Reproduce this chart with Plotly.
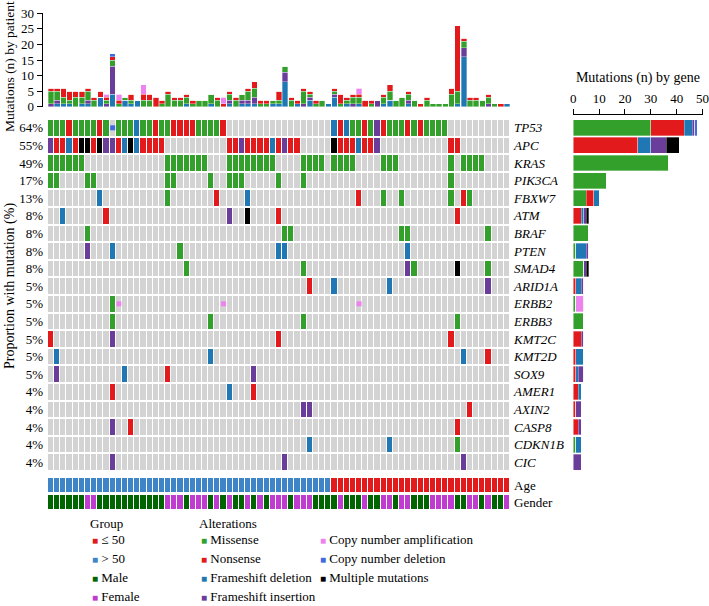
import plotly.graph_objects as go

W, H = 709, 606
FONT = "Liberation Serif"

# ---------------- data ----------------
genes = ["TP53", "APC", "KRAS", "PIK3CA", "FBXW7", "ATM", "BRAF", "PTEN", "SMAD4", "ARID1A",
         "ERBB2", "ERBB3", "KMT2C", "KMT2D", "SOX9", "AMER1", "AXIN2", "CASP8", "CDKN1B", "CIC"]
pct_labels = ["64%", "55%", "49%", "17%", "13%", "8%", "8%", "8%", "8%", "5%",
              "5%", "5%", "5%", "5%", "5%", "4%", "4%", "4%", "4%", "4%"]
N_PAT = 75

# alteration per patient column: M missense, N nonsense, D frameshift deletion,
# I frameshift insertion, K multiple, A copy-number amplification, L copy-number deletion
dense_alts = {
    "TP53": "MMMNMMMMNMLMMMDMMNMMNNNNMMMMN" + "." * 17 + "DNDMMNMINMMMNMNMMMM" + "." * 10,
    "APC": "INNDNKKNKIINDKDNNNN" + "." * 10 + "NNINNNNDNINN" + "." * 5 + "KNNNDNNI" + "." * 11 + "NN" + "." * 8,
    "KRAS": "MMMMMM" + "." * 13 + "MMMMMMM" + "..." + "MMMMMMMM" + "...." + "MMMM" + "." + "MMMM"
            + "...." + "MMM" + "." * 8 + "M" + "." + "MMMM" + "....",
}
sparse_alts = {
    "PIK3CA": {0: "M", 1: "M", 6: "M", 7: "M", 19: "M", 20: "M", 26: "M", 29: "M", 30: "M", 31: "M", 37: "M", 41: "M", 65: "M"},
    "FBXW7": {8: "D", 19: "M", 27: "N", 32: "D", 50: "N", 54: "M", 57: "M", 65: "M", 67: "N", 68: "M"},
    "ATM": {2: "D", 9: "N", 29: "I", 32: "K", 37: "N", 66: "N"},
    "BRAF": {6: "M", 38: "M", 39: "M", 57: "M", 58: "M", 71: "M"},
    "PTEN": {6: "I", 10: "D", 21: "M", 37: "D", 38: "D", 58: "D"},
    "SMAD4": {22: "M", 41: "M", 58: "I", 59: "M", 66: "K", 71: "M"},
    "ARID1A": {42: "N", 46: "D", 55: "D", 71: "I"},
    "ERBB2": {10: "M", 11: "A", 28: "A", 50: "A"},
    "ERBB3": {10: "M", 26: "M", 41: "M", 66: "M"},
    "KMT2C": {0: "N", 10: "I", 37: "N", 65: "N"},
    "KMT2D": {1: "D", 26: "D", 67: "D", 71: "N"},
    "SOX9": {1: "I", 12: "D", 19: "N", 33: "I"},
    "AMER1": {10: "N", 29: "D", 33: "N"},
    "AXIN2": {41: "I", 42: "I", 68: "N"},
    "CASP8": {10: "I", 13: "N", 66: "N"},
    "CDKN1B": {42: "D", 55: "D", 66: "M"},
    "CIC": {10: "I", 38: "I", 67: "I"},
}

# mutations per patient (top bar chart), by type
pp_fsdel = [0,1,1,1,0,1,1,0,3,0,4,0,2,1,2,0,0,0,0,0,0,0,1,0,0,0,1,0,0,1,0,1,1,1,0,0,1,1,8,0,
            1,0,2,0,0,1,3,0,1,0,1,0,0,0,1,2,0,0,1,0,0,0,0,0,0,0,1,16,0,0,0,0,0,0,1]
pp_fsins = [1,1,0,0,0,0,1,0,0,1,9,0,0,0,0,0,0,0,0,0,0,0,0,0,0,0,0,0,0,1,0,1,1,2,0,0,0,0,3,0,
            0,1,1,0,0,0,1,0,0,1,0,0,0,2,0,0,0,0,1,0,0,0,0,0,0,0,0,3,0,0,0,1,0,0,0]
pp_missense = [4,3,2,1,3,2,3,2,0,1,2,1,1,1,0,2,2,0,1,4,2,2,2,1,2,2,3,2,0,2,2,2,3,3,1,1,1,1,2,2,
               0,4,1,1,2,0,1,1,1,2,2,0,1,0,2,3,2,3,2,2,0,2,1,1,1,4,4,2,2,2,2,2,1,0,0]
pp_nonsense = [1,1,3,3,2,2,1,1,2,1,1,1,0,2,0,2,2,3,1,1,1,1,1,1,0,0,0,1,1,1,1,0,1,2,1,1,0,3,0,1,
               1,1,1,1,0,0,1,3,1,1,1,2,1,0,1,2,0,0,1,0,1,1,0,0,0,2,21,1,1,1,0,1,0,1,0]
pp_cnamp = [0]*9 + [1, 0, 2, 0, 0, 0, 3] + [0]*12 + [2] + [0]*21 + [2] + [0]*24
pp_cndel = [0]*10 + [1] + [0]*64

# mutations per gene (right bar chart), by type
g_missense = [30, 0, 37, 13, 5, 0, 6, 1, 4, 0, 1, 4, 0, 0, 0, 0, 0, 0, 1, 0]
g_nonsense = [13, 25, 0, 0, 3, 3, 0, 0, 0, 1, 0, 0, 3, 1, 1, 2, 1, 2, 0, 0]
g_fsdel = [3, 5, 0, 0, 2, 1, 0, 4, 0, 2, 0, 0, 0, 3, 1, 1, 0, 0, 2, 0]
g_fsins = [1, 6, 0, 0, 0, 1, 0, 1, 1, 1, 0, 0, 1, 0, 2, 0, 2, 1, 0, 3]
g_cnamp = [0, 0, 0, 0, 0, 0, 0, 0, 0, 0, 3, 0, 0, 0, 0, 0, 0, 0, 0, 0]
g_cndel = [1, 0, 0, 0, 0, 0, 0, 0, 0, 0, 0, 0, 0, 0, 0, 0, 0, 0, 0, 0]
g_multiple = [0, 5, 0, 0, 0, 1, 0, 0, 1, 0, 0, 0, 0, 0, 0, 0, 0, 0, 0, 0]

age_group = [">50"] * 46 + ["<=50"] * 29
gender = list("MMMMMMFFMMMMMMMMMMMFFFMFFFMFMFMMFMFMFFFMFFFMMMMFMMMFMMFFMFFMMMFFFFMMFFMFMM")
gender += ["F"] * (N_PAT - len(gender))

# legend content
group_legend = [("\u2264 50", "#e31a1c"), ("> 50", "#3d85c6"), ("Male", "#006400"), ("Female", "#c03cd0")]
alt_legend_a = [("Missense", "#33a02c"), ("Nonsense", "#e31a1c"),
                ("Frameshift deletion", "#1f78b4"), ("Frameshift insertion", "#6a3d9a")]
alt_legend_b = [("Copy number amplification", "#ee82ee"), ("Copy number deletion", "#4169e1"),
                ("Multiple mutations", "#000000")]

# ---------------- styles ----------------
C_MIS, C_NON, C_DEL, C_INS = "#33a02c", "#e31a1c", "#1f78b4", "#6a3d9a"
C_AMP, C_CND, C_MUL, C_GRAY = "#ee82ee", "#4169e1", "#000000", "#d3d3d3"
C_OLD, C_YOUNG, C_MALE, C_FEM = "#3d85c6", "#e31a1c", "#006400", "#c03cd0"

def px_x(p):
    return p / W

def px_y(p):
    return 1 - p / H

# build grid matrix
rows = []
for g in genes:
    if g in dense_alts:
        rows.append(dense_alts[g])
    else:
        r = ["."] * N_PAT
        for c, code in sparse_alts[g].items():
            r[c] = code
        rows.append("".join(r))

code_val = {".": 0, "A": 0, "L": 0, "M": 1, "N": 2, "D": 3, "I": 4, "K": 5}
z = [[code_val[ch] for ch in r] for r in rows]
cols = list(range(N_PAT))

def disc_scale(colors):
    n = len(colors)
    cs = []
    for i, c in enumerate(colors):
        cs.append([i / n, c])
        cs.append([(i + 1) / n, c])
    return cs

fig = go.Figure()
bar_line = dict(color="rgba(255,255,255,0.55)", width=0.6)

# top stacked bars (mutations by patient)
for vals, col, name in [(pp_fsdel, C_DEL, "Frameshift deletion"), (pp_fsins, C_INS, "Frameshift insertion"),
                        (pp_missense, C_MIS, "Missense"), (pp_nonsense, C_NON, "Nonsense"),
                        (pp_cnamp, C_AMP, "Copy number amplification"), (pp_cndel, C_CND, "Copy number deletion")]:
    fig.add_trace(go.Bar(x=cols, y=vals, marker=dict(color=col, line=bar_line),
                         xaxis="x", yaxis="y", showlegend=False, hoverinfo="skip", name=name))

# oncoprint grid
fig.add_trace(go.Heatmap(z=z, x=cols, y=list(range(len(genes))), xaxis="x2", yaxis="y2",
                         zmin=-0.5, zmax=5.5,
                         colorscale=disc_scale([C_GRAY, C_MIS, C_NON, C_DEL, C_INS, C_MUL]),
                         showscale=False, xgap=1, ygap=2, hoverinfo="skip"))
# copy number small squares
for code, col in [("A", C_AMP), ("L", C_CND)]:
    xs, ys = [], []
    for gi, r in enumerate(rows):
        for c, ch in enumerate(r):
            if ch == code:
                xs.append(c)
                ys.append(gi)
    fig.add_trace(go.Scatter(x=xs, y=ys, mode="markers", xaxis="x2", yaxis="y2",
                             marker=dict(symbol="square", size=5, color=col), showlegend=False, hoverinfo="skip"))
# invisible trace to activate right label axis
fig.add_trace(go.Scatter(x=[None], y=[None], xaxis="x2", yaxis="y3", showlegend=False, hoverinfo="skip"))

# annotation rows: age & gender
age_val = [0 if a == "<=50" else 1 for a in age_group]
gen_val = [2 if g == "M" else 3 for g in gender]
fig.add_trace(go.Heatmap(z=[age_val, gen_val], x=cols, y=[0, 1], xaxis="x4", yaxis="y4",
                         zmin=-0.5, zmax=3.5, colorscale=disc_scale([C_YOUNG, C_OLD, C_MALE, C_FEM]),
                         showscale=False, xgap=1, ygap=3, hoverinfo="skip"))

# right stacked bars (mutations by gene)
gidx = list(range(len(genes)))
for vals, col in [(g_missense, C_MIS), (g_nonsense, C_NON), (g_fsdel, C_DEL), (g_fsins, C_INS),
                  (g_cnamp, C_AMP), (g_cndel, C_CND), (g_multiple, C_MUL)]:
    fig.add_trace(go.Bar(x=vals, y=gidx, orientation="h", xaxis="x5", yaxis="y5",
                         marker=dict(color=col, line=bar_line), showlegend=False, hoverinfo="skip"))

GX0, GX1 = 48, 510
grid_top, grid_bot = 119, 471
tickfont = dict(family=FONT, size=13, color="black")
LF = dict(family=FONT, size=13, color="black")

annotations = [
    dict(text="Mutations (n) by patient", x=px_x(10), y=px_y(67), xref="paper", yref="paper",
         showarrow=False, textangle=-90, font=dict(family=FONT, size=13.5), xanchor="center", yanchor="middle"),
    dict(text="Proportion with mutation (%)", x=px_x(10), y=px_y(286), xref="paper", yref="paper",
         showarrow=False, textangle=-90, font=dict(family=FONT, size=14), xanchor="center", yanchor="middle"),
    dict(text="Group", x=px_x(88), y=px_y(523), xref="paper", yref="paper", showarrow=False,
         xanchor="left", yanchor="middle", font=LF),
    dict(text="Alterations", x=px_x(197), y=px_y(523), xref="paper", yref="paper", showarrow=False,
         xanchor="left", yanchor="middle", font=LF),
]

def legend_items(items, x_left, y_first):
    out = []
    for i, (label, col) in enumerate(items):
        out.append(dict(text='<span style="color:%s;font-size:10px">\u25a0</span> %s' % (col, label),
                        x=px_x(x_left), y=px_y(y_first + 19 * i), xref="paper", yref="paper",
                        showarrow=False, xanchor="left", yanchor="middle", font=LF))
    return out

annotations += legend_items(group_legend, 90, 539)
annotations += legend_items(alt_legend_a, 199, 539)
annotations += legend_items(alt_legend_b, 318, 539)

noauto = dict(automargin=False)

fig.update_layout(
    width=W, height=H, margin=dict(l=0, r=0, t=0, b=0, autoexpand=False),
    paper_bgcolor="white", plot_bgcolor="white",
    barmode="stack", bargap=0.1, showlegend=False,
    font=dict(family=FONT, size=13, color="black"),
    xaxis=dict(domain=[px_x(GX0), px_x(GX1)], range=[-0.5, N_PAT - 0.5], visible=False, anchor="y", **noauto),
    yaxis=dict(domain=[px_y(106.7), px_y(13.3)], range=[0, 30], dtick=5, ticks="outside", ticklen=5,
               showline=True, linecolor="black", linewidth=1, tickcolor="black", showgrid=False, zeroline=False,
               anchor="free", position=px_x(41.7), tickfont=tickfont, **noauto),
    xaxis2=dict(domain=[px_x(GX0), px_x(GX1)], range=[-0.5, N_PAT - 0.5], visible=False, anchor="y2", **noauto),
    yaxis2=dict(domain=[px_y(grid_bot), px_y(grid_top)], range=[len(genes) - 0.5, -0.5],
                tickvals=gidx, ticktext=pct_labels, ticks="", showgrid=False, zeroline=False,
                showline=False, anchor="x2", tickfont=tickfont, ticklabelstandoff=4, **noauto),
    yaxis3=dict(domain=[px_y(grid_bot), px_y(grid_top)], range=[len(genes) - 0.5, -0.5], overlaying="y2",
                side="right", anchor="x2", tickvals=gidx, ticktext=["<i>%s</i>" % g for g in genes],
                ticks="", showgrid=False, zeroline=False, showline=False, tickfont=tickfont,
                ticklabelstandoff=3, **noauto),
    xaxis4=dict(domain=[px_x(GX0), px_x(GX1)], range=[-0.5, N_PAT - 0.5], visible=False, anchor="y4", **noauto),
    yaxis4=dict(domain=[px_y(511), px_y(477)], range=[1.5, -0.5], side="right", anchor="x4",
                tickvals=[0, 1], ticktext=["Age", "Gender"], ticks="", showgrid=False, zeroline=False,
                showline=False, tickfont=tickfont, ticklabelstandoff=3, **noauto),
    xaxis5=dict(domain=[px_x(573.3), px_x(702.5)], range=[0, 50], dtick=10, side="top", anchor="free",
                position=px_y(113.5), ticks="outside", ticklen=5, showline=True, linecolor="black",
                tickcolor="black", showgrid=False, zeroline=False, tickfont=tickfont,
                ticklabeloverflow="allow",
                title=dict(text="Mutations (n) by gene", font=dict(family=FONT, size=14), standoff=4), **noauto),
    yaxis5=dict(domain=[px_y(grid_bot), px_y(grid_top)], range=[len(genes) - 0.5, -0.5], visible=False,
                anchor="x5", **noauto),
    annotations=annotations,
)

fig.write_html("out.html", config={"displayModeBar": False, "staticPlot": True},
               post_script="document.body.style.margin='0';document.body.style.overflow='hidden';")
